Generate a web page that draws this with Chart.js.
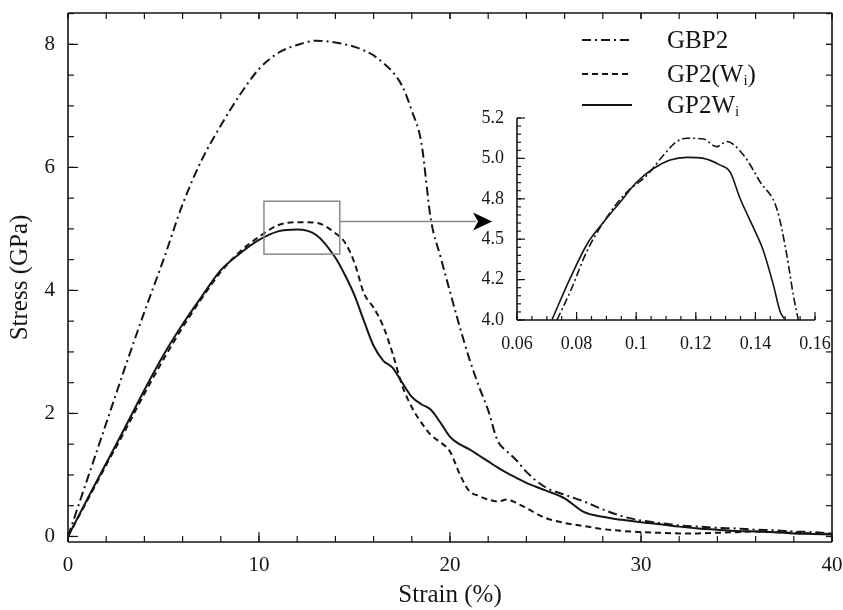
<!DOCTYPE html>
<html>
<head>
<meta charset="utf-8">
<script src="https://cdn.jsdelivr.net/npm/chart.js@4.4.1/dist/chart.umd.min.js"></script>
<style>
html, body { margin: 0; padding: 0; background: #fff; }
#wrap { position: relative; width: 843px; height: 610px; }
#wrap canvas { position: absolute; left: 0; top: 0; }
</style>
</head>
<body>
<div id="wrap">
  <canvas id="main" width="843" height="610"></canvas>
  <canvas id="inset" width="843" height="610"></canvas>
</div>
<script>
// main plot data (strain in %, stress in GPa)
const strain = [0, 1, 2, 3, 4, 5, 6, 7, 8, 9, 10, 11, 12, 13,
  14, 14.5, 15, 15.5, 16, 16.5, 17, 17.5, 18, 18.5, 19, 19.5, 20, 20.5, 21, 21.5, 22, 22.5, 23, 23.5, 24,
  25, 26, 27, 28, 29, 30, 31, 32, 33, 34, 35, 36, 37, 38, 39, 40];
const gbp2 = [0, 0.92, 1.84, 2.76, 3.65, 4.5, 5.4, 6.12, 6.68, 7.18, 7.6, 7.86, 7.99, 8.06,
  8.03, 8.0, 7.96, 7.9, 7.82, 7.7, 7.55, 7.32, 6.92, 6.4, 5.15, 4.55, 3.98, 3.42, 2.9, 2.45, 2.05, 1.55, 1.38, 1.23, 1.05,
  0.8, 0.68, 0.57, 0.44, 0.33, 0.26, 0.22, 0.18, 0.16, 0.14, 0.13, 0.11, 0.1, 0.08, 0.07, 0.05];
const gp2W = [0, 0.58, 1.16, 1.73, 2.32, 2.88, 3.4, 3.87, 4.3, 4.63, 4.87, 5.06, 5.11, 5.1,
  4.93, 4.78, 4.45, 3.95, 3.72, 3.42, 2.97, 2.45, 2.1, 1.85, 1.65, 1.53, 1.38, 1.02, 0.74, 0.66, 0.6, 0.57, 0.6, 0.54, 0.46,
  0.3, 0.22, 0.17, 0.12, 0.09, 0.07, 0.06, 0.05, 0.05, 0.06, 0.07, 0.08, 0.07, 0.06, 0.05, 0.04];
const gp2Wi = [0, 0.6, 1.19, 1.78, 2.38, 2.95, 3.45, 3.9, 4.33, 4.6, 4.82, 4.96, 4.99, 4.9,
  4.53, 4.25, 3.92, 3.5, 3.1, 2.86, 2.74, 2.5, 2.27, 2.15, 2.06, 1.85, 1.62, 1.5, 1.42, 1.32, 1.22, 1.12, 1.03, 0.95, 0.87,
  0.75, 0.62, 0.4, 0.32, 0.27, 0.23, 0.2, 0.16, 0.13, 0.11, 0.09, 0.08, 0.07, 0.05, 0.04, 0.03];
const seriesNames = ['GBP2', 'GP2(W{i})', 'GP2W{i}'];

const xTicks = [0, 10, 20, 30, 40];
const yTicks = [0, 2, 4, 6, 8];

// zoom box on the main plot
const boxStrain = [10.26, 14.23];
const boxStress = [4.59, 5.45];
const arrowStress = 5.12;
const arrowEndStrain = 22.2;

// inset data
const insetSolidStrain = [0.0717, 0.0779, 0.0835, 0.089, 0.0946, 0.1002, 0.1058, 0.1114, 0.117, 0.1226, 0.1282, 0.1315, 0.1349, 0.1393, 0.1427, 0.146, 0.1483, 0.15];
const insetSolidStress = [4.0, 4.25, 4.45, 4.58, 4.70, 4.82, 4.9, 4.95, 4.966, 4.96, 4.92, 4.88, 4.72, 4.55, 4.41, 4.21, 4.05, 4.0];
const insetDashStrain = [0.0734, 0.0779, 0.0835, 0.0913, 0.0969, 0.1036, 0.1092, 0.1136, 0.117, 0.1226, 0.127, 0.1304, 0.136, 0.1416, 0.1472, 0.1505, 0.1527, 0.1544];
const insetDashStress = [4.0, 4.17, 4.41, 4.64, 4.76, 4.86, 4.98, 5.06, 5.08, 5.075, 5.03, 5.06, 4.98, 4.82, 4.66, 4.39, 4.15, 4.0];
const insetXTicks = [0.06, 0.08, 0.1, 0.12, 0.14, 0.16];
const insetXLabels = ['0.06', '0.08', '0.1', '0.12', '0.14', '0.16'];
const insetYTicks = [4.0, 4.24, 4.48, 4.72, 4.96, 5.2];
const insetYLabels = ['4.0', '4.2', '4.5', '4.8', '5.0', '5.2'];

const SERIF = "'Liberation Serif', 'Times New Roman', serif";
const INK = '#151515';
const DASHDOT = [9, 4, 2, 4];
const DASHED = [6, 4];

function pts(xs, ys) {
  return xs.map((v, i) => ({x: v, y: ys[i]}));
}
function range(a, b, step) {
  const out = [];
  for (let v = a; v <= b + 1e-9; v += step) out.push(+v.toFixed(4));
  return out;
}

// inward tick marks drawn from the scales
function makeTicks(cfg) {
  return {
    id: 'inTicks',
    afterDraw(chart) {
      const ctx = chart.ctx, a = chart.chartArea;
      const x = chart.scales.x, y = chart.scales.y;
      ctx.save();
      ctx.strokeStyle = INK;
      const seg = (x1, y1, x2, y2) => { ctx.beginPath(); ctx.moveTo(x1, y1); ctx.lineTo(x2, y2); ctx.stroke(); };
      ctx.lineWidth = 1.6;
      seg(a.left, a.top, a.left, a.bottom);
      seg(a.left, a.bottom, a.right, a.bottom);
      if (cfg.frame) {
        seg(a.left, a.top, a.right, a.top);
        seg(a.right, a.top, a.right, a.bottom);
      }
      ctx.lineWidth = 1.2;
      cfg.xMinor.forEach(v => {
        const p = x.getPixelForValue(v);
        seg(p, a.bottom, p, a.bottom - cfg.minor);
        if (cfg.frame) seg(p, a.top, p, a.top + cfg.minor);
      });
      cfg.xMajor.forEach(v => {
        const p = x.getPixelForValue(v);
        seg(p, a.bottom, p, a.bottom - cfg.major);
        if (cfg.frame) seg(p, a.top, p, a.top + cfg.minor);
      });
      cfg.yMinor.forEach(v => {
        const p = y.getPixelForValue(v);
        seg(a.left, p, a.left + cfg.minor, p);
        if (cfg.frame) seg(a.right, p, a.right - cfg.minor, p);
      });
      cfg.yMajor.forEach(v => {
        const p = y.getPixelForValue(v);
        seg(a.left, p, a.left + cfg.major, p);
        if (cfg.frame) seg(a.right, p, a.right - cfg.minor, p);
      });
      ctx.restore();
    }
  };
}

function drawName(ctx, name, x, y) {
  const parts = name.split(/(\{[^}]*\})/).filter(s => s.length);
  let cx = x;
  parts.forEach(p => {
    if (p[0] === '{') {
      const t = p.slice(1, -1);
      ctx.font = '15px ' + SERIF;
      ctx.fillText(t, cx, y + 6);
      cx += ctx.measureText(t).width;
    } else {
      ctx.font = '25px ' + SERIF;
      ctx.fillText(p, cx, y);
      cx += ctx.measureText(p).width;
    }
  });
}

const overlay = {
  id: 'overlay',
  afterDraw(chart) {
    const ctx = chart.ctx;
    const x = chart.scales.x, y = chart.scales.y;
    ctx.save();
    // zoom box and arrow
    const bx1 = x.getPixelForValue(boxStrain[0]), bx2 = x.getPixelForValue(boxStrain[1]);
    const by1 = y.getPixelForValue(boxStress[1]), by2 = y.getPixelForValue(boxStress[0]);
    ctx.strokeStyle = '#8a8a8a';
    ctx.lineWidth = 1.5;
    ctx.strokeRect(bx1, by1, bx2 - bx1, by2 - by1);
    const ay = y.getPixelForValue(arrowStress);
    const ax = x.getPixelForValue(arrowEndStrain);
    ctx.beginPath();
    ctx.moveTo(bx2, ay);
    ctx.lineTo(ax - 16, ay);
    ctx.stroke();
    ctx.fillStyle = '#000';
    ctx.beginPath();
    ctx.moveTo(ax, ay);
    ctx.lineTo(ax - 19, ay - 9);
    ctx.lineTo(ax - 14, ay);
    ctx.lineTo(ax - 19, ay + 9);
    ctx.closePath();
    ctx.fill();
    // legend
    const dashes = [DASHDOT, DASHED, []];
    const rows = [40, 74, 105];
    ctx.strokeStyle = INK;
    ctx.fillStyle = INK;
    ctx.textBaseline = 'middle';
    ctx.lineWidth = 2;
    seriesNames.forEach((n, i) => {
      ctx.setLineDash(dashes[i]);
      ctx.beginPath();
      ctx.moveTo(582, rows[i]);
      ctx.lineTo(632, rows[i]);
      ctx.stroke();
      ctx.setLineDash([]);
      drawName(ctx, n, 667, rows[i] + 1);
    });
    ctx.restore();
  }
};

function line(label, data, dash, width) {
  return {
    label: label,
    data: data,
    borderColor: INK,
    borderWidth: width,
    borderDash: dash,
    pointRadius: 0,
    fill: false,
    cubicInterpolationMode: 'monotone'
  };
}

new Chart(document.getElementById('main'), {
  type: 'line',
  data: {
    datasets: [
      line(seriesNames[0], pts(strain, gbp2), DASHDOT, 2),
      line(seriesNames[1], pts(strain, gp2W), DASHED, 2),
      line(seriesNames[2], pts(strain, gp2Wi), [], 2)
    ]
  },
  options: {
    responsive: false,
    animation: false,
    events: [],
    layout: { padding: { left: 0, top: 13, right: 11, bottom: 0 } },
    plugins: { legend: { display: false }, tooltip: { enabled: false } },
    scales: {
      x: {
        type: 'linear', min: 0, max: 40,
        afterBuildTicks: s => { s.ticks = xTicks.map(v => ({value: v})); },
        afterFit: s => { s.height = 68; s.paddingLeft = 0; s.paddingRight = 0; },
        grid: { display: false },
        border: { display: false },
        ticks: { color: INK, font: { family: SERIF, size: 21 }, padding: 3, maxRotation: 0 },
        title: { display: true, text: 'Strain (%)', color: INK, font: { family: SERIF, size: 25 }, padding: { top: 0, bottom: 0 } }
      },
      y: {
        type: 'linear', min: -0.09, max: 8.51,
        afterBuildTicks: s => { s.ticks = yTicks.map(v => ({value: v})); },
        afterFit: s => { s.width = 68; s.paddingTop = 0; s.paddingBottom = 0; },
        grid: { display: false },
        border: { display: false },
        ticks: { color: INK, font: { family: SERIF, size: 21 }, padding: 5 },
        title: { display: true, text: 'Stress (GPa)', color: INK, font: { family: SERIF, size: 25 }, padding: { top: 5, bottom: 0 } }
      }
    }
  },
  plugins: [makeTicks({
    frame: true, major: 10, minor: 6,
    xMajor: xTicks, xMinor: range(0, 40, 2),
    yMajor: yTicks, yMinor: range(0, 8.5, 0.5)
  }), overlay]
});

new Chart(document.getElementById('inset'), {
  type: 'line',
  data: {
    datasets: [
      line(seriesNames[1], pts(insetDashStrain, insetDashStress), [8, 3, 2, 3], 1.6),
      line(seriesNames[2], pts(insetSolidStrain, insetSolidStress), [], 1.6)
    ]
  },
  options: {
    responsive: false,
    animation: false,
    events: [],
    layout: { padding: { left: 457, top: 118, right: 28, bottom: 260 } },
    plugins: { legend: { display: false }, tooltip: { enabled: false } },
    scales: {
      x: {
        type: 'linear', min: 0.06, max: 0.16,
        afterBuildTicks: s => { s.ticks = insetXTicks.map(v => ({value: v})); },
        afterFit: s => { s.height = 30; s.paddingLeft = 0; s.paddingRight = 0; },
        grid: { display: false },
        border: { display: false },
        ticks: { color: INK, font: { family: SERIF, size: 18 }, padding: 5, maxRotation: 0,
          callback: (v, i) => insetXLabels[i] },
        title: { display: false }
      },
      y: {
        type: 'linear', min: 4.0, max: 5.2,
        afterBuildTicks: s => { s.ticks = insetYTicks.map(v => ({value: v})); },
        afterFit: s => { s.width = 60; s.paddingTop = 0; s.paddingBottom = 0; },
        grid: { display: false },
        border: { display: false },
        ticks: { color: INK, font: { family: SERIF, size: 18 }, padding: 5,
          callback: (v, i) => insetYLabels[i] },
        title: { display: false }
      }
    }
  },
  plugins: [makeTicks({
    frame: false, major: 8, minor: 4,
    xMajor: insetXTicks, xMinor: range(0.06, 0.16, 0.005),
    yMajor: insetYTicks, yMinor: range(4.0, 5.2, 0.048)
  })]
});
</script>
</body>
</html>
